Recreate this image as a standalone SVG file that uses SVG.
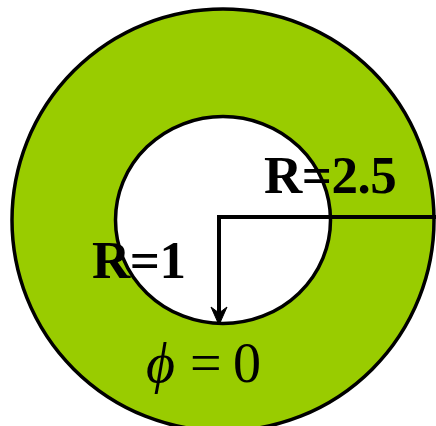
<svg xmlns="http://www.w3.org/2000/svg" width="436" height="426" viewBox="0 0 436 426">
<style>
.ring{stroke:#000;stroke-width:3.5}
.lbl{font-family:"Liberation Serif","Times New Roman",serif;fill:#000}
.b{font-weight:bold;font-size:53px;letter-spacing:-0.5px}
.conn{stroke:#000;stroke-width:4;fill:none}
</style>
<rect width="436" height="426" fill="#fff"/>
<g id="outer"><ellipse class="ring" cx="223" cy="220" rx="211" ry="211" fill="#99CC00"/></g>
<g id="inner"><ellipse class="ring" cx="223" cy="220" rx="107.5" ry="103.5" fill="#fff"/></g>
<g id="connectors">
<polyline class="conn" points="436,217 219,217 219,314"/>
<path d="M219,325 L211,307 L219,313 L227,307 Z" fill="#000" stroke="#000" stroke-width="1"/>
</g>
<g id="labels">
<text class="lbl b" x="264" y="193">R=2.5</text>
<text class="lbl b" x="92" y="278">R=1</text>
<text class="lbl" x="146" y="382" font-size="56" font-style="italic">ϕ</text>
<text class="lbl" x="190" y="382" font-size="56">=</text>
<text class="lbl" x="233" y="382" font-size="56">0</text>
</g>
</svg>
